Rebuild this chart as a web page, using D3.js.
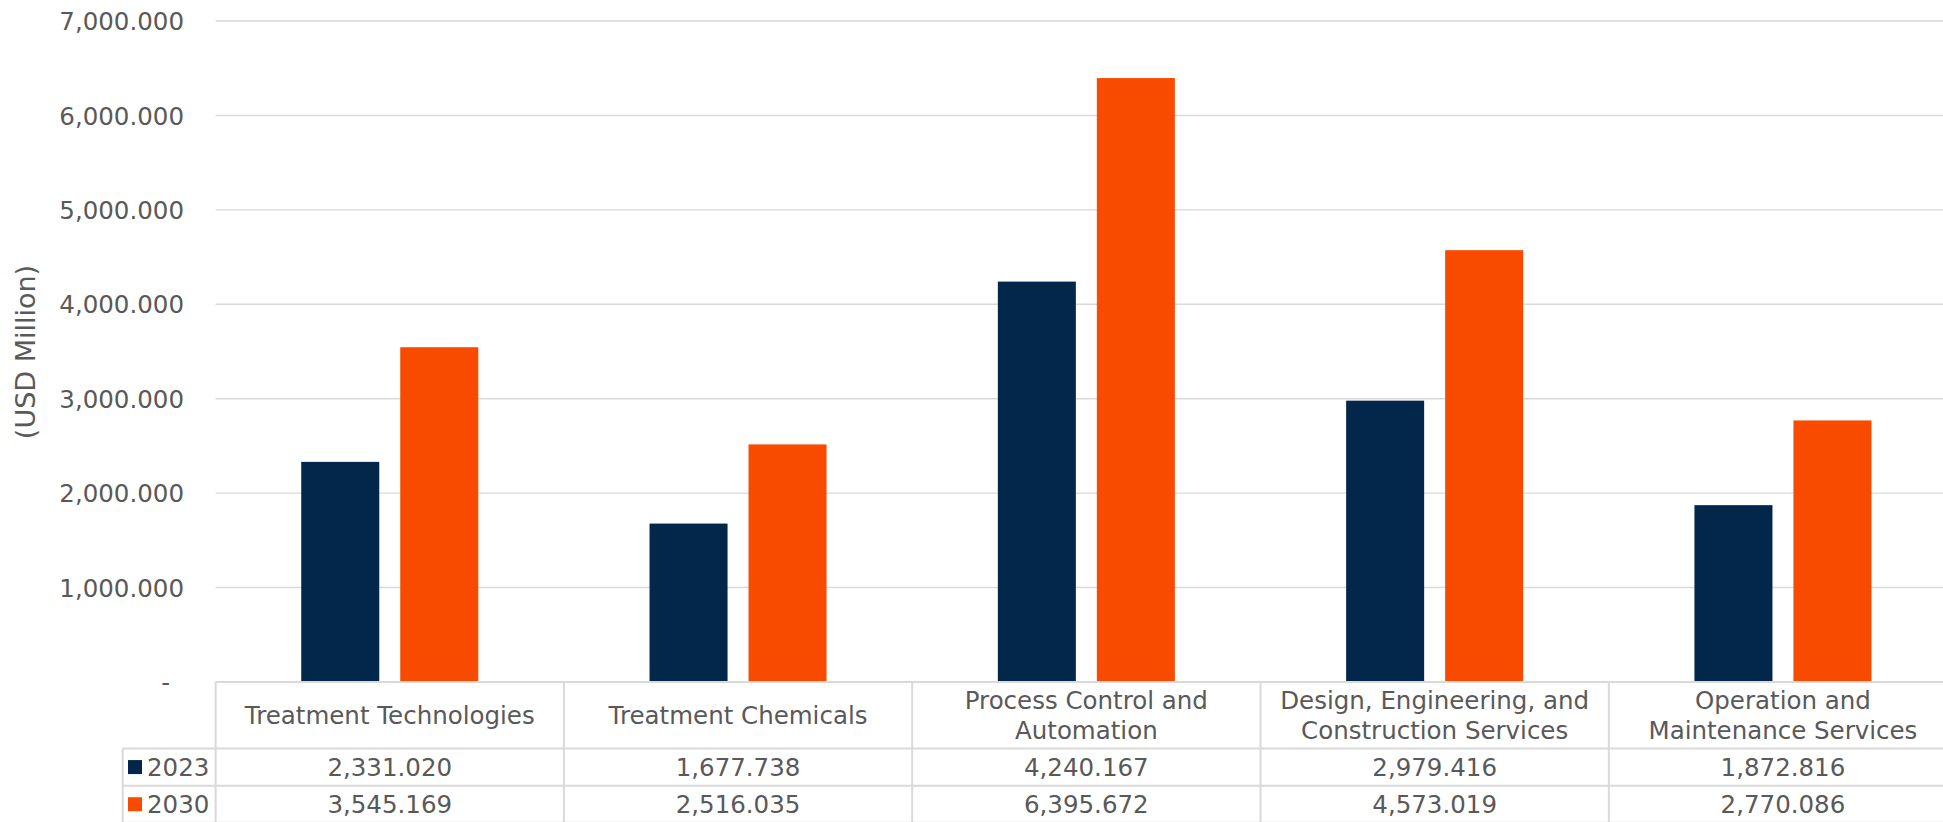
<!DOCTYPE html>
<html>
<head>
<meta charset="utf-8">
<script src="https://cdn.jsdelivr.net/npm/d3@7"></script>
<style>
  html, body { margin: 0; padding: 0; background: #ffffff; overflow: hidden; }
  svg { display: block; }
  text { font-family: "DejaVu Sans", Verdana, sans-serif; fill: #595959; }
</style>
</head>
<body>
<svg id="chart" width="1943" height="822"></svg>
<script>
// Market size by segment (USD Million)
const categories = [
  ["Treatment Technologies"],
  ["Treatment Chemicals"],
  ["Process Control and", "Automation"],
  ["Design, Engineering, and", "Construction Services"],
  ["Operation and", "Maintenance Services"]
];
const seriesNames = ["2023", "2030"];
const values2023 = [2331.020, 1677.738, 4240.167, 2979.416, 1872.816];
const values2030 = [3545.169, 2516.035, 6395.672, 4573.019, 2770.086];
const yTicks = [0, 1000, 2000, 3000, 4000, 5000, 6000, 7000];
const colors = ["#02274a", "#f84b00"];
const yTitle = "(USD Million)";

const seriesValues = [values2023, values2030];
const catKeys = categories.map(c => c.join(" "));

const svg = d3.select("#chart");
const W = 1943;
const fs = "24.5px";

// plot geometry
const plotLeft = 215.6, plotRight = 1957.1;
const plotTop = 21, plotBottom = 682;
const legendLeft = 122.7;
const headerBottom = 748.5, rowH = 37.15;

const x0 = d3.scaleBand().domain(catKeys).range([plotLeft, plotRight]).padding(0);
const x1 = d3.scaleBand().domain(seriesNames).range([0, x0.bandwidth()])
  .paddingInner(0.212).paddingOuter(0.865);
const y = d3.scaleLinear().domain([0, 7000]).range([plotBottom, plotTop]);

const fmt = d3.format(",.3f");

// horizontal gridlines
svg.append("g")
  .selectAll("line")
  .data(yTicks.filter(t => t > 0))
  .join("line")
  .attr("x1", plotLeft).attr("x2", W)
  .attr("y1", d => y(d)).attr("y2", d => y(d))
  .attr("stroke", "#d9d9d9").attr("stroke-width", 1.4);

// y axis labels
const yAxis = d3.axisLeft(y).tickValues(yTicks).tickSize(0)
  .tickFormat(d => d === 0 ? "-" : fmt(d));
const gy = svg.append("g").attr("transform", `translate(${184},0)`).call(yAxis);
gy.select(".domain").remove();
gy.selectAll("text")
  .attr("x", 0)
  .attr("dy", "0.35em")
  .style("font-size", fs)
  .style("font-family", "'DejaVu Sans', Verdana, sans-serif")
  .attr("fill", "#595959");
gy.selectAll(".tick").filter(d => d === 0).select("text").attr("x", -14);

// y axis title
svg.append("text")
  .attr("transform", `translate(35,${352}) rotate(-90)`)
  .attr("text-anchor", "middle")
  .style("font-size", "27px")
  .text(yTitle);

// bars
const groups = svg.append("g")
  .selectAll("g")
  .data(catKeys)
  .join("g")
  .attr("transform", d => `translate(${x0(d)},0)`);

groups.selectAll("rect")
  .data((d, i) => seriesNames.map((s, j) => ({ s, v: seriesValues[j][i], j })))
  .join("rect")
  .attr("x", d => x1(d.s))
  .attr("width", x1.bandwidth())
  .attr("y", d => y(d.v))
  .attr("height", d => y(0) - y(d.v))
  .attr("fill", d => colors[d.j]);

// data table
const table = svg.append("g");
const border = "#d9d9d9";
const bw = 2;

// top line (category axis)
table.append("line")
  .attr("x1", plotLeft).attr("x2", W)
  .attr("y1", plotBottom).attr("y2", plotBottom)
  .attr("stroke", border).attr("stroke-width", bw);

// row separators
[headerBottom, headerBottom + rowH, headerBottom + 2 * rowH].forEach(yy => {
  table.append("line")
    .attr("x1", legendLeft).attr("x2", W)
    .attr("y1", yy).attr("y2", yy)
    .attr("stroke", border).attr("stroke-width", bw);
});

// vertical separators
const colEdges = catKeys.map(k => x0(k)).concat([plotRight]);
colEdges.forEach(xx => {
  table.append("line")
    .attr("x1", xx).attr("x2", xx)
    .attr("y1", plotBottom).attr("y2", 822)
    .attr("stroke", border).attr("stroke-width", bw);
});
table.append("line")
  .attr("x1", legendLeft).attr("x2", legendLeft)
  .attr("y1", headerBottom).attr("y2", 822)
  .attr("stroke", border).attr("stroke-width", bw);

// category header labels
const headerMid = (plotBottom + headerBottom) / 2;
const lineH = 30;
categories.forEach((lines, i) => {
  const cx = x0(catKeys[i]) + x0.bandwidth() / 2;
  const t = table.append("text")
    .attr("text-anchor", "middle")
    .style("font-size", fs);
  lines.forEach((ln, k) => {
    t.append("tspan")
      .attr("x", cx)
      .attr("y", headerMid + (k - (lines.length - 1) / 2) * lineH)
      .attr("dy", "0.35em")
      .text(ln);
  });
});

// value rows with legend keys
seriesNames.forEach((s, j) => {
  const cy = headerBottom + rowH * j + rowH / 2;
  table.append("rect")
    .attr("x", 128).attr("y", cy - 7)
    .attr("width", 14).attr("height", 14)
    .attr("fill", colors[j]);
  table.append("text")
    .attr("x", 147).attr("y", cy).attr("dy", "0.35em")
    .style("font-size", fs)
    .text(s);
  seriesValues[j].forEach((v, i) => {
    table.append("text")
      .attr("x", x0(catKeys[i]) + x0.bandwidth() / 2)
      .attr("y", cy).attr("dy", "0.35em")
      .attr("text-anchor", "middle")
      .style("font-size", fs)
      .text(fmt(v));
  });
});
</script>
</body>
</html>
